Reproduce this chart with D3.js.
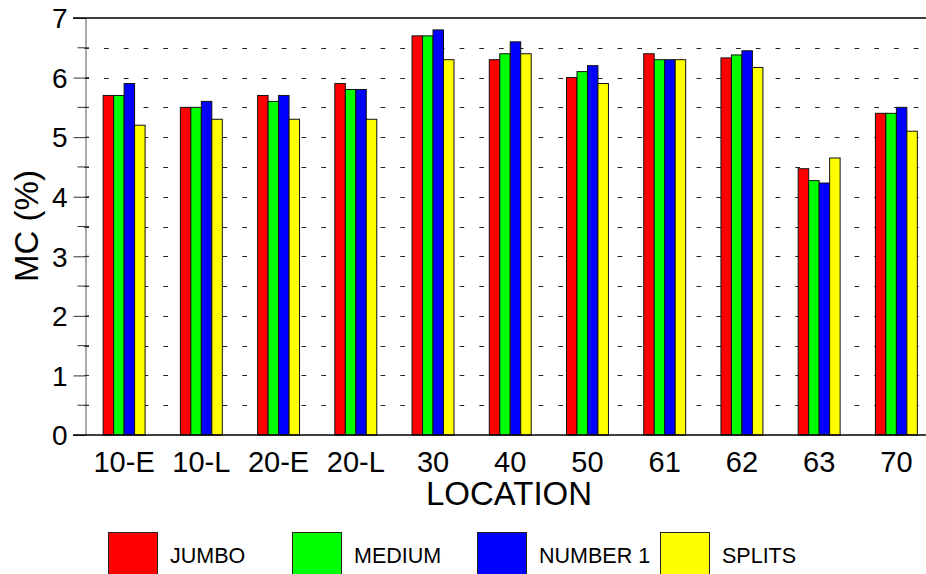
<!DOCTYPE html>
<html>
<head>
<meta charset="utf-8">
<script src="https://cdn.jsdelivr.net/npm/d3@7"></script>
<style>
  html, body { margin: 0; padding: 0; background: #fff; }
  svg { display: block; font-family: "Liberation Sans", Arial, sans-serif; }
</style>
</head>
<body>
<svg id="chart" width="926" height="574"></svg>
<script>
// ---- data ----
const locations = ["10-E", "10-L", "20-E", "20-L", "30", "40", "50", "61", "62", "63", "70"];
const seriesNames = ["JUMBO", "MEDIUM", "NUMBER 1", "SPLITS"];
const jumbo   = [5.7, 5.5, 5.7, 5.9, 6.7, 6.3, 6.0, 6.4, 6.33, 4.47, 5.4];
const medium  = [5.7, 5.5, 5.6, 5.8, 6.7, 6.4, 6.1, 6.3, 6.38, 4.27, 5.4];
const number1 = [5.9, 5.6, 5.7, 5.8, 6.8, 6.6, 6.2, 6.3, 6.45, 4.23, 5.5];
const splits  = [5.2, 5.3, 5.3, 5.3, 6.3, 6.4, 5.9, 6.3, 6.17, 4.65, 5.1];
const yTicks = [0, 1, 2, 3, 4, 5, 6, 7];
const yMinorTicks = [0.5, 1.5, 2.5, 3.5, 4.5, 5.5, 6.5];
const colors = ["#ff0000", "#00ff00", "#0000ff", "#ffff00"];
const xTitle = "LOCATION";
const yTitle = "MC (%)";

const seriesValues = [jumbo, medium, number1, splits];

// ---- layout ----
const svg = d3.select("#chart");
const plotLeft = 85.5, plotRight = 935, plotTop = 18, plotBottom = 435;

const x0 = d3.scaleBand().domain(locations).range([plotLeft, plotRight])
  .paddingInner(0.457).paddingOuter(0.2285);
const x1 = d3.scaleBand().domain(seriesNames).range([0, x0.bandwidth()]);
const y = d3.scaleLinear().domain([0, 7]).range([plotBottom, plotTop]);

// dashed grid lines
svg.append("g").selectAll("line").data(yMinorTicks.concat(yTicks.filter(d => d > 0 && d < 7)))
  .join("line")
  .attr("x1", 84.3).attr("x2", 926)
  .attr("y1", d => Math.round(y(d)) + 0.5).attr("y2", d => Math.round(y(d)) + 0.5)
  .attr("stroke", "#222").attr("stroke-width", 1)
  .attr("stroke-dasharray", "4.7,15.05");

// bars
const groups = svg.append("g").selectAll("g").data(locations).join("g")
  .attr("transform", d => `translate(${x0(d)},0)`);
groups.selectAll("rect")
  .data((loc, i) => seriesNames.map((s, j) => ({ s, v: seriesValues[j][i], c: colors[j] })))
  .join("rect")
  .attr("x", d => x1(d.s))
  .attr("y", d => y(d.v))
  .attr("width", x1.bandwidth())
  .attr("height", d => y(0) - y(d.v))
  .attr("fill", d => d.c)
  .attr("stroke", "#111")
  .attr("stroke-width", 1);

// y axis
const yAxis = svg.append("g").attr("transform", `translate(${plotLeft},0)`)
  .call(d3.axisLeft(y).tickValues(yTicks).tickSize(12).tickPadding(6).tickFormat(d3.format("d")));
yAxis.select(".domain").attr("stroke", "#555");
yAxis.selectAll(".tick line").attr("stroke", "#333");
yAxis.selectAll(".tick text")
  .attr("font-size", 28).attr("fill", "#000")
  .attr("font-family", "'Liberation Sans', Arial, sans-serif")
  .attr("dy", "0.35em");
// inner part of major ticks and minor ticks
svg.append("g").selectAll("line").data(yTicks.filter(d => d > 0 && d < 7)).join("line")
  .attr("x1", plotLeft).attr("x2", plotLeft + 3.5)
  .attr("y1", d => y(d)).attr("y2", d => y(d))
  .attr("stroke", "#333");
svg.append("g").selectAll("line").data(yMinorTicks).join("line")
  .attr("x1", plotLeft - 8).attr("x2", plotLeft + 3.5)
  .attr("y1", d => y(d)).attr("y2", d => y(d))
  .attr("stroke", "#333");

// top and bottom solid lines
svg.append("line").attr("x1", 73).attr("x2", 926).attr("y1", y(7)).attr("y2", y(7))
  .attr("stroke", "#000").attr("stroke-width", 1.5);
svg.append("line").attr("x1", 73).attr("x2", 926).attr("y1", y(0)).attr("y2", y(0))
  .attr("stroke", "#000").attr("stroke-width", 1.5);

// x labels
svg.append("g").selectAll("text").data(locations).join("text")
  .attr("x", d => x0(d) + x0.bandwidth() / 2)
  .attr("y", 472)
  .attr("text-anchor", "middle")
  .attr("font-size", 29)
  .text(d => d);

// axis titles
svg.append("text").attr("x", 509).attr("y", 505).attr("text-anchor", "middle")
  .attr("font-size", 33).text(xTitle);
svg.append("text")
  .attr("transform", "translate(38,226) rotate(-90)")
  .attr("text-anchor", "middle").attr("font-size", 33).text(yTitle);

// legend
const legendX = [108, 292, 477, 660];
const legend = svg.append("g").selectAll("g").data(seriesNames).join("g")
  .attr("transform", (d, i) => `translate(${legendX[i]},532)`);
legend.append("rect").attr("x", 0.5).attr("y", 0.5).attr("width", 49).attr("height", 50)
  .attr("fill", (d, i) => colors[i]).attr("stroke", "#222");
legend.append("text").attr("x", 62).attr("y", 31).attr("font-size", 21.5).text(d => d);
</script>
</body>
</html>
